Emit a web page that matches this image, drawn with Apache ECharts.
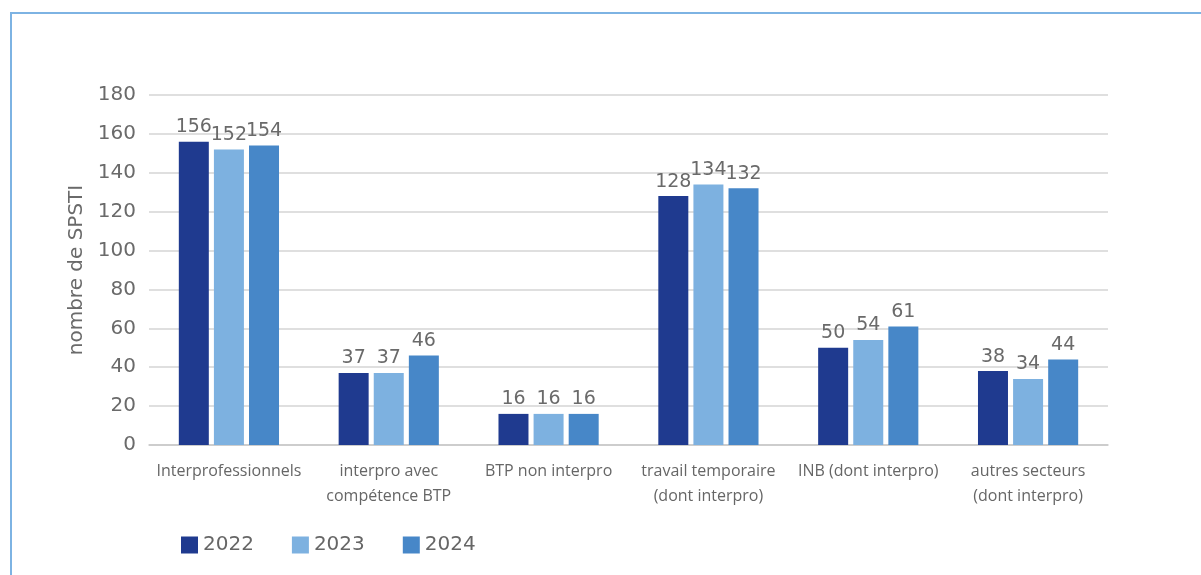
<!DOCTYPE html>
<html><head><meta charset="utf-8">
<script src="https://cdn.jsdelivr.net/npm/echarts@6/dist/echarts.min.js"></script>
<style>
html,body{margin:0;padding:0;background:#fff;overflow:hidden}
#frame{position:absolute;left:10px;top:12px;width:1300px;height:700px;border:2px solid #7db3e3;box-sizing:border-box}
#chart{position:absolute;left:0;top:0;width:1201px;height:575px}
</style></head>
<body>
<div id="frame"></div>
<div id="chart"></div>
<script>
const categories = ["Interprofessionnels","interpro avec\ncompétence BTP","BTP non interpro","travail temporaire\n(dont interpro)","INB (dont interpro)","autres secteurs\n(dont interpro)"];
const years = ["2022","2023","2024"];
const v2022 = [156,37,16,128,50,38];
const v2023 = [152,37,16,134,54,34];
const v2024 = [154,46,16,132,61,44];
const yTicks = [0,20,40,60,80,100,120,140,160,180];
const colors = ["#1f3a8f","#7db1e0","#4787c8"];
const numFont = '"DejaVu Sans", sans-serif';
const chart = echarts.init(document.getElementById('chart'));
const labelStyle = {show:true,position:'top',distance:5,color:'#6a6a6a',fontSize:19,fontFamily:numFont};
const mk = (name,data,i)=>({name,type:'bar',data,barWidth:30,barGap:'17%',itemStyle:{color:colors[i]},label:labelStyle,labelLayout:{moveOverlap:'shiftY'}});
chart.setOption({
  animation:false,
  color:colors,
  grid:{left:149,right:93,top:95,bottom:130},
  legend:{left:176,top:530,itemWidth:17,itemHeight:17,itemGap:38,icon:'rect',
    textStyle:{color:'#666',fontSize:20,fontFamily:numFont},data:years},
  xAxis:{type:'category',data:categories,
    axisLine:{lineStyle:{color:'#c8c8c8',width:1.5}},axisTick:{show:false},
    axisLabel:{color:'#666',fontSize:16,lineHeight:25,margin:14,interval:0,fontFamily:'"Liberation Sans Narrow", "Open Sans", sans-serif'}},
  yAxis:{type:'value',min:yTicks[0],max:yTicks[yTicks.length-1],interval:20,
    name:'nombre de SPSTI',nameLocation:'middle',nameGap:56,
    nameTextStyle:{color:'#6a6a6a',fontSize:20,fontFamily:numFont},
    axisLine:{show:false},axisTick:{show:false},
    axisLabel:{color:'#6a6a6a',fontSize:20,margin:13,fontFamily:numFont},
    splitLine:{lineStyle:{color:'#d4d4d4',width:1.5}}},
  series:[mk(years[0],v2022,0),mk(years[1],v2023,1),mk(years[2],v2024,2)]
});
</script>
</body></html>
